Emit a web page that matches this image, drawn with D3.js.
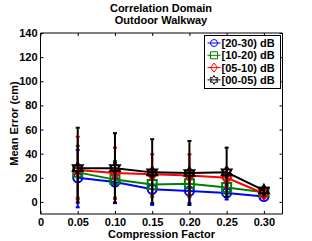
<!DOCTYPE html>
<html>
<head>
<meta charset="utf-8">
<script src="https://cdn.jsdelivr.net/npm/d3@7"></script>
<style>
  html, body { margin: 0; padding: 0; background: #fff; }
  svg text { font-family: "Liberation Sans", Arial, sans-serif; font-weight: bold; font-size: 11px; fill: #000; }
</style>
</head>
<body>
<div id="chart"></div>
<script>
// Chart data
const factors = [0.05, 0.10, 0.15, 0.20, 0.25, 0.30];
const xTicks = [0, 0.05, 0.10, 0.15, 0.20, 0.25, 0.30];
const yTicks = [0, 20, 40, 60, 80, 100, 120, 140];
const seriesNames = ['[20-30) dB', '[10-20) dB', '[05-10) dB', '[00-05) dB'];
const seriesColors = ['#0000ff', '#008000', '#ff0000', '#000000'];
const seriesMarkers = ['circle', 'square', 'diamond', 'hexagram'];

const meanSnr2030 = [20, 16.5, 10.5, 9, 7.5, 4.5];
const meanSnr1020 = [24.5, 18.5, 14.5, 15, 12, 8];
const meanSnr0510 = [26.5, 24, 23, 22, 20, 7];
const meanSnr0005 = [28, 28, 24.5, 24, 24.5, 9.5];

const upperSnr2030 = [43, 33, 24, 22, 14, 6];
const upperSnr1020 = [46.5, 34, 26, 27, 18, 9];
const upperSnr0510 = [54, 45, 39.5, 39.5, 28, 8.5];
const upperSnr0005 = [61.5, 57, 52, 50.5, 45, 12];

const lowerSnr2030 = [-4.5, -1, -2.5, -1, 2, 3.5];
const lowerSnr1020 = [3.5, 3.5, 4, 4, 6, 7];
const lowerSnr0510 = [2, 2.5, 6, 5, 12, 5.5];
const lowerSnr0005 = [-0.5, -0.5, -1, -2.5, 4, 7.5];

const means = [meanSnr2030, meanSnr1020, meanSnr0510, meanSnr0005];
const uppers = [upperSnr2030, upperSnr1020, upperSnr0510, upperSnr0005];
const lowers = [lowerSnr2030, lowerSnr1020, lowerSnr0510, lowerSnr0005];

const width = 312, height = 241;
const margin = { top: 33, right: 29.5, bottom: 27, left: 40.5 };

const svg = d3.select('#chart').append('svg')
  .attr('width', width)
  .attr('height', height);

const x = d3.scaleLinear().domain([0, 0.325]).range([margin.left, width - margin.right]);
const y = d3.scaleLinear().domain([-10, 140]).range([height - margin.bottom, margin.top]);

// Title
svg.append('text').attr('x', 161).attr('y', 11.5).attr('text-anchor', 'middle').text('Correlation Domain');
svg.append('text').attr('x', 161).attr('y', 23.5).attr('text-anchor', 'middle').text('Outdoor Walkway');

// Axes (MATLAB style: ticks inside on all four sides)
const tickLen = -3;
const fmtX = d => d === 0 ? '0' : d.toFixed(2);

const axBottom = svg.append('g')
  .attr('transform', `translate(0,${y(-10)})`)
  .call(d3.axisBottom(x).tickValues(xTicks).tickSize(tickLen).tickPadding(4.5).tickFormat(fmtX));
const axTop = svg.append('g')
  .attr('transform', `translate(0,${y(140)})`)
  .call(d3.axisTop(x).tickValues(xTicks).tickSize(tickLen).tickFormat(''));
const axLeft = svg.append('g')
  .attr('transform', `translate(${x(0)},0)`)
  .call(d3.axisLeft(y).tickValues(yTicks).tickSize(tickLen).tickPadding(3));
const axRight = svg.append('g')
  .attr('transform', `translate(${x(0.325)},0)`)
  .call(d3.axisRight(y).tickValues(yTicks).tickSize(tickLen).tickFormat(''));

svg.selectAll('.domain').attr('stroke', '#000').attr('stroke-width', 1);
svg.selectAll('.tick line').attr('stroke', '#000');
svg.selectAll('.tick text')
  .attr('font-family', '"Liberation Sans", Arial, sans-serif')
  .attr('font-weight', 'bold')
  .attr('font-size', '11px')
  .attr('fill', '#000');
axBottom.selectAll('.domain').attr('d', `M${x(0)},0H${x(0.325)}`);
axTop.selectAll('.domain').attr('d', `M${x(0)},0H${x(0.325)}`);
axLeft.selectAll('.domain').attr('d', `M0,${y(-10)}V${y(140)}`);
axRight.selectAll('.domain').attr('d', `M0,${y(-10)}V${y(140)}`);

// Axis labels
svg.append('text').attr('x', 161.5).attr('y', 237.5).attr('text-anchor', 'middle').text('Compression Factor');
svg.append('text')
  .attr('transform', `translate(17.5,${(y(-10) + y(140)) / 2}) rotate(-90)`)
  .attr('text-anchor', 'middle')
  .text('Mean Error (cm)');

// Marker shapes
function markerPath(type, r) {
  if (type === 'circle') {
    return `M${r},0A${r},${r} 0 1,1 ${-r},0A${r},${r} 0 1,1 ${r},0Z`;
  }
  if (type === 'square') {
    return `M${-r},${-r}H${r}V${r}H${-r}Z`;
  }
  if (type === 'diamond') {
    return `M0,${-r * 1.3}L${r},0L0,${r * 1.3}L${-r},0Z`;
  }
  // hexagram: two overlapping triangles
  const pts = [];
  for (let i = 0; i < 12; i++) {
    const a = -Math.PI / 2 + i * Math.PI / 6;
    const rr = i % 2 === 0 ? r * 1.25 : r * 0.72;
    pts.push([rr * Math.cos(a), rr * Math.sin(a)]);
  }
  return 'M' + pts.map(p => p[0].toFixed(2) + ',' + p[1].toFixed(2)).join('L') + 'Z';
}

const line = d3.line().x(d => x(d[0])).y(d => y(d[1]));
const capW = 2;

means.forEach((vals, s) => {
  const color = seriesColors[s];
  const g = svg.append('g');
  const pts = factors.map((f, i) => [f, vals[i]]);

  // error bars
  factors.forEach((f, i) => {
    const cx = x(f);
    g.append('line')
      .attr('x1', cx).attr('x2', cx)
      .attr('y1', y(lowers[s][i])).attr('y2', y(uppers[s][i]))
      .attr('stroke', color).attr('stroke-width', 2);
    [lowers[s][i], uppers[s][i]].forEach(v => {
      g.append('line')
        .attr('x1', cx - capW).attr('x2', cx + capW)
        .attr('y1', y(v)).attr('y2', y(v))
        .attr('stroke', color).attr('stroke-width', 2);
    });
  });

  g.append('path')
    .attr('d', line(pts))
    .attr('fill', 'none')
    .attr('stroke', color)
    .attr('stroke-width', 2);

  g.selectAll('path.marker')
    .data(pts)
    .enter()
    .append('path')
    .attr('class', 'marker')
    .attr('transform', d => `translate(${x(d[0])},${y(d[1])})`)
    .attr('d', markerPath(seriesMarkers[s], 4.5))
    .attr('fill', 'none')
    .attr('stroke', color)
    .attr('stroke-width', 2);
});

// Legend
const lg = svg.append('g').attr('transform', 'translate(204.5,35.5)');
lg.append('rect')
  .attr('width', 76).attr('height', 53)
  .attr('fill', '#fff').attr('stroke', '#000').attr('stroke-width', 1);
seriesNames.forEach((name, i) => {
  const ly = 7.5 + i * 12.3;
  const color = seriesColors[i];
  lg.append('line')
    .attr('x1', 3).attr('x2', 16)
    .attr('y1', ly).attr('y2', ly)
    .attr('stroke', color).attr('stroke-width', 1);
  lg.append('path')
    .attr('transform', `translate(9.5,${ly})`)
    .attr('d', markerPath(seriesMarkers[i], 3.5))
    .attr('fill', 'none').attr('stroke', color).attr('stroke-width', 1);
  lg.append('text')
    .attr('x', 17).attr('y', ly + 4)
    .text(name);
});
</script>
</body>
</html>
